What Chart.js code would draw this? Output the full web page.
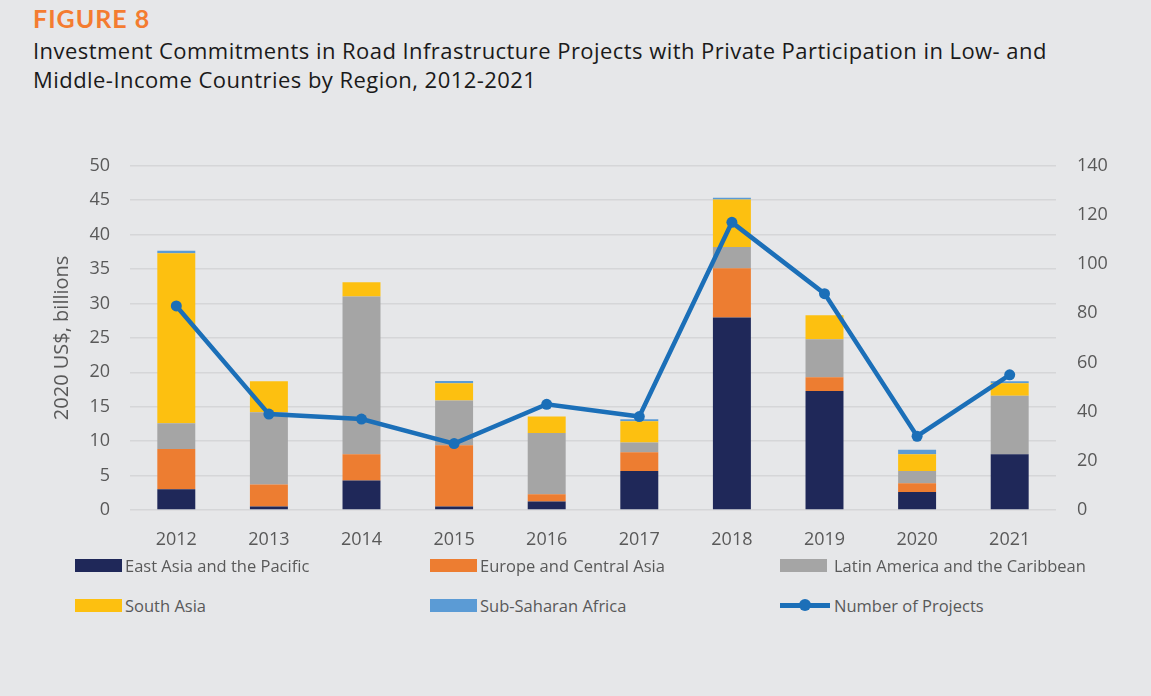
<!DOCTYPE html>
<html>
<head>
<meta charset="utf-8">
<script src="https://cdn.jsdelivr.net/npm/chart.js@4"></script>
<style>
    body { margin: 0; background: #e6e7e9; width: 1151px; height: 696px; overflow: hidden; position: relative; font-family: 'Open Sans', sans-serif; }
    #figNo { position: absolute; left: 33px; top: 3px; font: bold 25px Lato, sans-serif; letter-spacing: 1px; color: #f47c30; }
    #title { position: absolute; left: 33px; top: 36px; font: 22px 'Open Sans', sans-serif; letter-spacing: 0.45px; color: #1a1a1a; line-height: 28.5px; }
    #chart { position: absolute; left: 0; top: 134px; }
    .lg { position: absolute; display: flex; align-items: center; font-size: 16.5px; color: #595959; white-space: nowrap; }
    .lg .box { width: 47px; height: 13px; margin-right: 3px; }
    .lg .ln { width: 50px; height: 5px; position: relative; margin-right: 4px; }
    .lg .ln i { position: absolute; left: 19px; top: -4px; width: 12px; height: 12px; border-radius: 50%; }
</style>
</head>
<body>
<div id="figNo">FIGURE 8</div>
<div id="title">Investment Commitments in Road Infrastructure Projects with Private Participation in Low- and<br>Middle-Income Countries by Region, 2012-2021</div>
<canvas id="chart" width="1151" height="426"></canvas>
<div id="legend"></div>
<script>
const years = ['2012', '2013', '2014', '2015', '2016', '2017', '2018', '2019', '2020', '2021'];

// billions, 2020 US$
const eastAsia = [3.0, 0.5, 4.3, 0.5, 1.25, 5.65, 27.95, 17.3, 2.6, 8.1];
const europe = [5.85, 3.2, 3.8, 8.9, 1.05, 2.75, 7.15, 2.0, 1.3, 0];
const latinAmerica = [3.75, 10.5, 22.9, 6.5, 8.9, 1.4, 3.1, 5.5, 1.75, 8.5];
const southAsia = [24.7, 4.5, 2.1, 2.5, 2.4, 3.1, 6.9, 3.5, 2.45, 1.8];
const subSaharan = [0.35, 0, 0, 0.35, 0, 0.3, 0.25, 0, 0.65, 0.3];

const projects = [83, 39, 37, 27, 43, 38, 117, 88, 30, 55];

const leftTicks = [0, 5, 10, 15, 20, 25, 30, 35, 40, 45, 50];
const rightTicks = [0, 20, 40, 60, 80, 100, 120, 140];

const colors = {
    eastAsia: '#1f2859',
    europe: '#ed7d31',
    latin: '#a5a5a5',
    south: '#fdc010',
    ssa: '#5b9bd5',
    line: '#1b6fb8',
};

const tickFont = { family: "'Open Sans', sans-serif", size: 18 };

const barSet = (label, data, color) => ({
    type: 'bar',
    label: label,
    data: data,
    backgroundColor: color,
    stack: 'regions',
    yAxisID: 'y',
    order: 1,
    barPercentage: 0.41,
    categoryPercentage: 1,
});

const datasets = [
    barSet('East Asia and the Pacific', eastAsia, colors.eastAsia),
    barSet('Europe and Central Asia', europe, colors.europe),
    barSet('Latin America and the Caribbean', latinAmerica, colors.latin),
    barSet('South Asia', southAsia, colors.south),
    barSet('Sub-Saharan Africa', subSaharan, colors.ssa),
    {
        type: 'line',
        label: 'Number of Projects',
        data: projects,
        yAxisID: 'y1',
        borderColor: colors.line,
        backgroundColor: colors.line,
        borderWidth: 4.5,
        pointRadius: 5.5,
        pointBackgroundColor: colors.line,
        pointBorderWidth: 0,
        tension: 0,
        order: 0,
    },
];

const chart = new Chart(document.getElementById('chart'), {
    data: { labels: years, datasets: datasets },
    options: {
        responsive: false,
        animation: false,
        layout: { padding: 0 },
        plugins: { legend: { display: false }, tooltip: { enabled: false } },
        scales: {
            x: {
                stacked: true,
                grid: { display: false, drawTicks: false },
                border: { display: false },
                ticks: { color: '#595959', font: tickFont, padding: 19 },
                afterFit: (s) => { s.height = 50; },
            },
            y: {
                stacked: true,
                position: 'left',
                min: 0,
                max: 50,
                afterBuildTicks: (s) => { s.ticks = leftTicks.map((v) => ({ value: v })); },
                grid: { color: '#d5d6d8', lineWidth: 1.5, drawTicks: false },
                border: { display: false },
                ticks: { color: '#595959', font: tickFont, padding: 20 },
                title: {
                    display: true,
                    text: '2020 US$, billions',
                    color: '#595959',
                    font: { family: "'Open Sans', sans-serif", size: 20 },
                    padding: { top: 50 },
                },
                afterFit: (s) => { s.width = 130; },
            },
            y1: {
                position: 'right',
                min: 0,
                max: 140,
                afterBuildTicks: (s) => { s.ticks = rightTicks.map((v) => ({ value: v })); },
                grid: { display: false, drawTicks: false },
                border: { display: false },
                ticks: { color: '#595959', font: tickFont, padding: 21 },
                afterFit: (s) => { s.width = 95; },
            },
        },
    },
});

// legend in three columns, two rows
const legendSpots = [[75, 565], [430, 565], [780, 565], [75, 605], [430, 605], [780, 605]];
const legend = document.getElementById('legend');
chart.data.datasets.forEach((ds, i) => {
    const [x, y] = legendSpots[i];
    const item = document.createElement('div');
    item.className = 'lg';
    item.style.left = x + 'px';
    item.style.top = (y - 11) + 'px';
    const mark = ds.type === 'line'
        ? `<span class="ln" style="background:${ds.borderColor}"><i style="background:${ds.borderColor}"></i></span>`
        : `<span class="box" style="background:${ds.backgroundColor}; margin-right:${x > 700 ? 7 : 3}px"></span>`;
    item.innerHTML = mark + `<span>${ds.label}</span>`;
    legend.appendChild(item);
});
</script>
</body>
</html>
